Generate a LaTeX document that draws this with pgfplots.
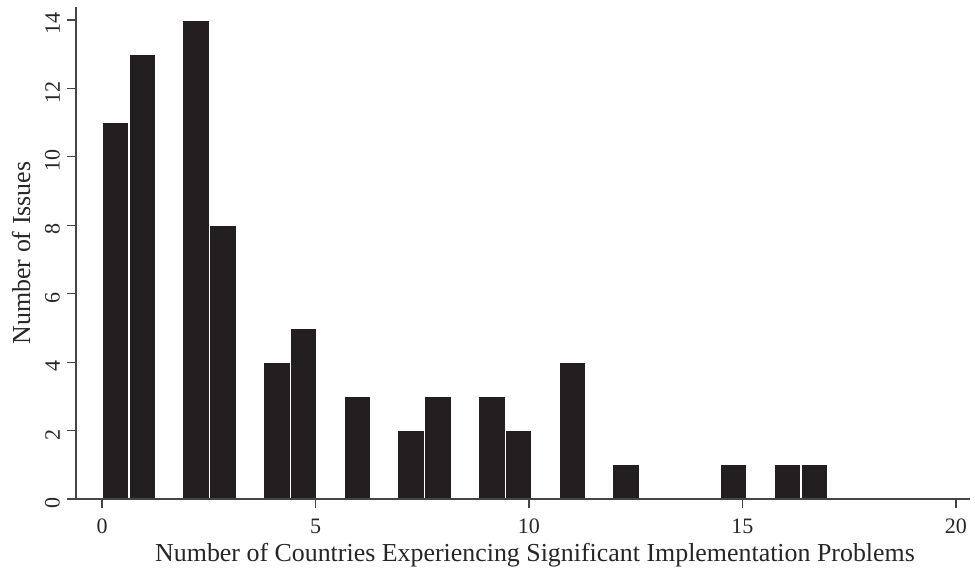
\documentclass[border=0pt]{standalone}
\usepackage{fontspec}
\setmainfont{Liberation Serif}
\usepackage{pgfplots}
\pgfplotsset{compat=1.18}

\definecolor{barfill}{HTML}{231F20}
\definecolor{axisgray}{HTML}{454545}

% Histogram: 27 bins of width 17/27 over [0,17]; bin centres and counts
\pgfplotstableread{
x       y
0.3148  11
0.9444  13
2.2037  14
2.8333  8
4.0926  4
4.7222  5
5.9815  3
7.2407  2
7.8704  3
9.1296  3
9.7593  2
11.0185 4
12.2778 1
14.7963 1
16.0556 1
16.6852 1
}\histdata

\begin{document}
\begin{tikzpicture}
\begin{axis}[
  scale only axis,
  width=447pt, height=246pt,
  xmin=-0.61, xmax=20.33,
  ymin=0, ymax=14.38,
  axis on top,
  axis lines=left,
  axis line style={-, draw=axisgray, line width=0.6pt},
  tick style={draw=axisgray, line width=0.6pt},
  tick align=outside,
  major tick length=4.5pt,
  xtick={0,5,10,15,20},
  ytick={0,2,4,6,8,10,12,14},
  /pgf/number format/assume math mode=true,
  ticklabel style={font=\fontsize{11}{13}\selectfont, text=black!85},
  yticklabel style={rotate=90, anchor=south, xshift=-2pt},
  xticklabel style={yshift=-2pt},
  label style={font=\fontsize{12.95}{15}\selectfont, text=black!85},
  xlabel={Number of Countries Experiencing Significant Implementation Problems},
  ylabel={Number of Issues},
  xlabel style={yshift=2pt, xshift=6pt},
  ylabel style={yshift=0.5pt},
  clip=false,
]
\addplot[ybar, bar width=0.62963, bar shift=0pt,
  fill=barfill, draw=white, line width=0.7pt]
  table[x=x, y=y] {\histdata};
\coordinate (bbl) at (rel axis cs:-0.085,-0.1443);
\coordinate (bbr) at (rel axis cs:1.0056,1.0142);
\end{axis}
\pgfresetboundingbox
\path[use as bounding box] (bbl) rectangle (bbr);
\end{tikzpicture}
\end{document}
